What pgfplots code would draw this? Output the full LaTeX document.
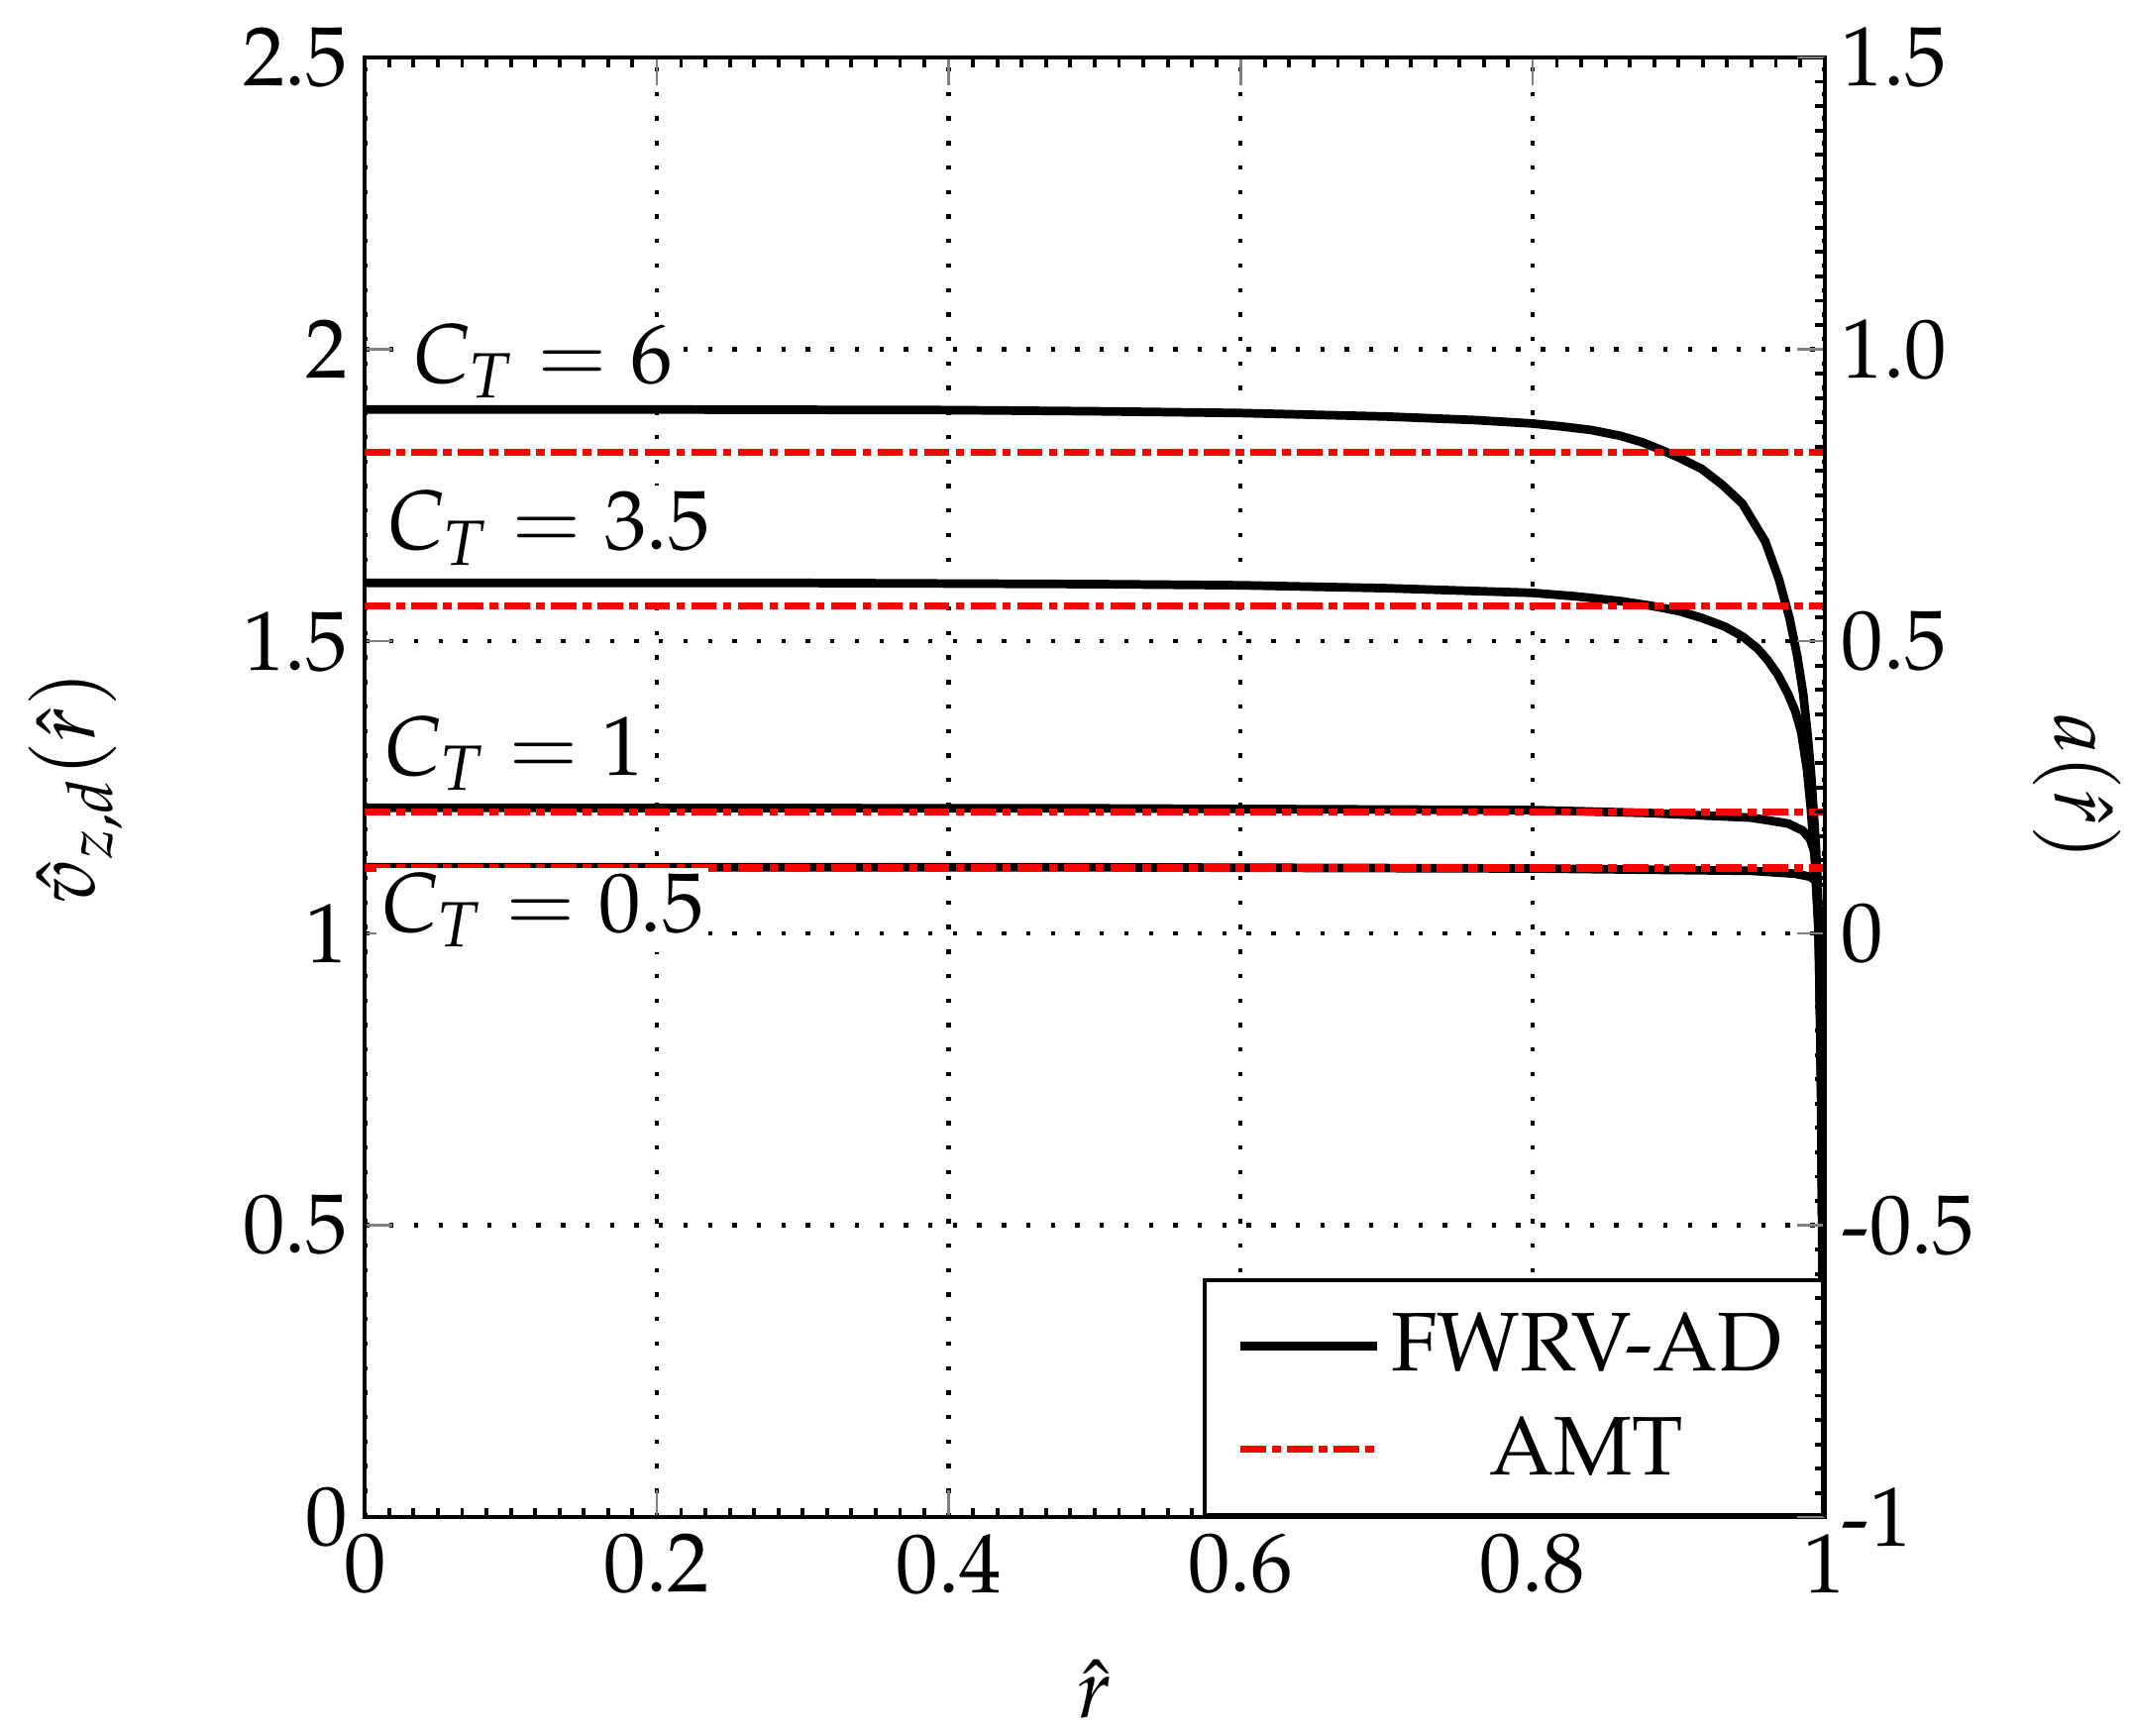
\documentclass[border=0pt]{standalone}
\usepackage[T1]{fontenc}
\usepackage{mathpazo}
\usepackage{pgfplots}
\pgfplotsset{compat=1.18}
\begin{document}
\begin{tikzpicture}
\useasboundingbox (-2.67,-1.60) rectangle (12.93,11.10);
\begin{axis}[
 scale only axis, width=10.68cm, height=10.68cm,
 xmin=0, xmax=1, ymin=0, ymax=2.5,
 xtick={0,0.2,0.4,0.6,0.8,1}, ytick={0,0.5,1,1.5,2,2.5},
 minor x tick num=11,
 grid=major,
 major grid style={black, line width=0.9pt, dash pattern=on 0.9pt off 4.2pt},
 axis line style={line width=0.8pt},
 tick align=inside,
 major tick length=0.2cm, minor tick length=2pt,
 every major tick/.append style={gray, line width=0.5pt},
 every minor tick/.append style={black, line width=0.8pt},
 ytick pos=left,
 tick label style={font=\fontsize{17.5}{21}\selectfont},
 label style={font=\fontsize{17.5}{21}\selectfont},
 xlabel={$\hat{r}$}, ylabel={$\hat{v}_{z,d}(\hat{r})$},
 xlabel style={at={(axis description cs:0.5,-0.118)}, anchor=center},
 ylabel style={at={(axis description cs:-0.198,0.5)}, anchor=center},
 legend style={at={(1,0)}, anchor=south east, draw=black, line width=0.8pt, fill=white,
   font=\fontsize{17.3}{21}\selectfont, inner xsep=6.5pt, inner ysep=5pt, row sep=4pt},
 legend cell align=center,
 legend image code/.code={\draw[#1] (0cm,0cm) -- (1.0cm,0cm);},
]
% FWRV-AD
\addplot[black, line width=1.8pt] coordinates {(0,1.897)(0.2,1.897)(0.4,1.896)(0.5,1.894)(0.6,1.891)(0.7,1.885)(0.76,1.879)(0.8,1.873)(0.82,1.868)(0.84,1.862)(0.86,1.852)(0.875,1.841)(0.888,1.828)(0.9,1.815)(0.916,1.795)(0.93,1.768)(0.9437,1.736)(0.9594,1.671)(0.9688,1.606)(0.976,1.54)(0.9813,1.475)(0.9854,1.41)(0.9882,1.345)(0.9906,1.279)(0.9924,1.214)(0.9941,1.149)(0.9965,1.0)(0.998,0.7)(0.999,0.3)};
\addlegendentry{FWRV-AD}
\addplot[black, line width=1.8pt, forget plot] coordinates {(0,1.600)(0.3,1.600)(0.5,1.598)(0.6,1.596)(0.7,1.591)(0.8,1.583)(0.83,1.577)(0.86,1.569)(0.881,1.561)(0.9,1.552)(0.916,1.540)(0.932,1.525)(0.944,1.508)(0.954,1.488)(0.961,1.468)(0.968,1.443)(0.975,1.41)(0.98,1.38)(0.984,1.345)(0.988,1.28)(0.9906,1.214)(0.9935,1.12)(0.9958,1.018)(0.998,0.7)(0.999,0.3)};
\addplot[black, line width=1.8pt, forget plot] coordinates {(0,1.215)(0.5,1.214)(0.8,1.211)(0.88,1.206)(0.95,1.198)(0.975,1.188)(0.985,1.176)(0.99,1.162)(0.993,1.14)(0.995,1.1)(0.997,0.9)(0.999,0.3)};
\addplot[black, line width=1.8pt, forget plot] coordinates {(0,1.113)(0.5,1.113)(0.8,1.111)(0.95,1.107)(0.98,1.102)(0.99,1.097)(0.994,1.09)(0.996,1.0)(0.998,0.7)(0.999,0.3)};
% AMT
\addplot[red, line width=1.5pt, dash pattern=on 5.3pt off 1.3pt on 1.8pt off 1.3pt] coordinates {(0,1.824)(1,1.824)};
\addlegendentry{AMT}
\addplot[red, line width=1.5pt, dash pattern=on 5.3pt off 1.3pt on 1.8pt off 1.3pt, forget plot] coordinates {(0,1.561)(1,1.561)};
\addplot[red, line width=1.5pt, dash pattern=on 5.3pt off 1.3pt on 1.8pt off 1.3pt, forget plot] coordinates {(0,1.208)(1,1.208)};
\addplot[red, line width=1.5pt, dash pattern=on 5.3pt off 1.3pt on 1.8pt off 1.3pt, forget plot] coordinates {(0,1.112)(1,1.112)};
\node[anchor=west, fill=white, inner sep=1pt, font=\fontsize{17.5}{21}\selectfont] at (axis cs:0.029,1.98) {$C_T=6$};
\node[anchor=west, fill=white, inner sep=1pt, font=\fontsize{17.5}{21}\selectfont] at (axis cs:0.011,1.694) {$C_T=3.5$};
\node[anchor=west, fill=white, inner sep=1pt, font=\fontsize{17.5}{21}\selectfont] at (axis cs:0.009,1.308) {$C_T=1$};
\node[anchor=west, fill=white, inner sep=1pt, font=\fontsize{17.5}{21}\selectfont] at (axis cs:0.007,1.04) {$C_T=0.5$};
\end{axis}
\begin{axis}[
 scale only axis, width=10.68cm, height=10.68cm,
 xmin=0, xmax=1, ymin=-1, ymax=1.5,
 axis y line*=right, axis x line=none,
 ytick={-1,-0.5,0,0.5,1,1.5},
 yticklabels={-1,-0.5,0,0.5,1.0,1.5},
 minor y tick num=11,
 axis line style={line width=0.8pt},
 tick align=inside,
 major tick length=0.2cm, minor tick length=2pt,
 every major tick/.append style={gray, line width=0.5pt},
 every minor tick/.append style={black, line width=0.8pt},
 tick label style={font=\fontsize{17.5}{21}\selectfont},
 label style={font=\fontsize{17.5}{21}\selectfont},
 ylabel={$a(\hat{r})$},
 ylabel style={at={(axis description cs:1.173,0.5)}, anchor=center, rotate=180},
]
\end{axis}
\end{tikzpicture}
\end{document}
